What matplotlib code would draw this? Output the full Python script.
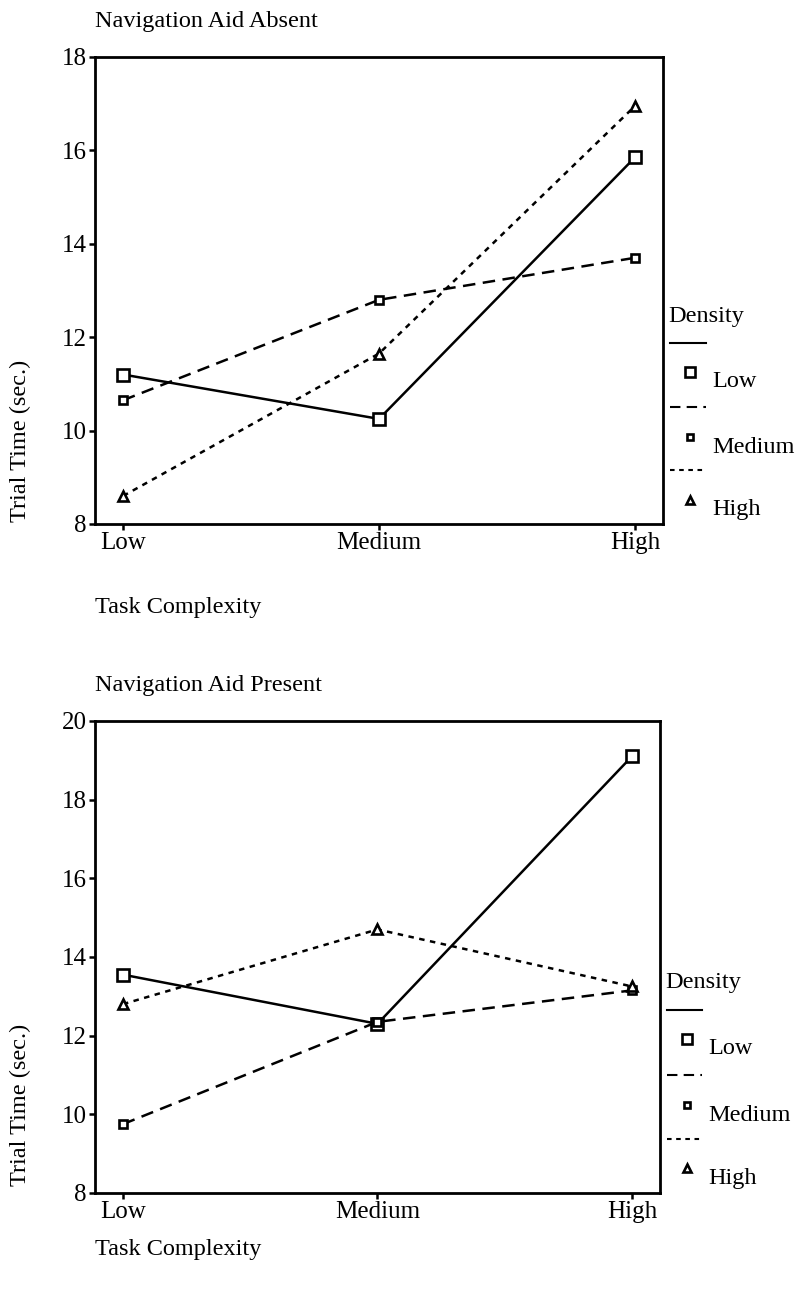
from matplotlib import pyplot as plt
from matplotlib.lines import Line2D

plt.rcParams['font.family'] = ['Liberation Serif', 'DejaVu Serif']

complexity = ['Low', 'Medium', 'High']
density = ['Low', 'Medium', 'High']

# trial times, navigation aid absent
absent_low = [11.2, 10.25, 15.85]
absent_medium = [10.65, 12.8, 13.7]
absent_high = [8.6, 11.65, 16.95]

# trial times, navigation aid present
present_low = [13.55, 12.3, 19.1]
present_medium = [9.75, 12.35, 13.15]
present_high = [12.8, 14.7, 13.25]

styles = [
    dict(ls='-', marker='s', ms=9, dashes=(None, None)),
    dict(ls='--', marker='s', ms=6, dashes=(5, 3)),
    dict(ls='--', marker='^', ms=7, dashes=(2.2, 2.2)),
]


def draw_panel(ax, series, yticks):
    x = range(len(complexity))
    for vals, st in zip(series, styles):
        kw = dict(color='black', lw=1.8, marker=st['marker'], ms=st['ms'],
                  mfc='white', mec='black', mew=1.9)
        if st['ls'] == '-':
            ax.plot(x, vals, '-', **kw)
        else:
            ax.plot(x, vals, '--', dashes=st['dashes'], **kw)
    ax.set_xlim(-0.11, 2.11)
    ax.set_ylim(yticks[0], yticks[-1])
    ax.set_yticks(yticks)
    ax.set_xticks(list(x))
    ax.set_xticklabels(complexity)
    ax.tick_params(labelsize=18, length=4, width=1.8, pad=2)
    for s in ax.spines.values():
        s.set_linewidth(2.0)

    # hand-built legend to the right of the box
    ax.text(1.009, 0.445, 'Density', transform=ax.transAxes, fontsize=17.5,
            va='center', ha='left')
    line_y = [0.388, 0.250, 0.115]
    mark_y = [0.326, 0.186, 0.052]
    text_y = [0.306, 0.164, 0.031]
    for i, st in enumerate(styles):
        if st['ls'] == '-':
            ln = Line2D([1.012, 1.075], [line_y[i]] * 2, color='black', lw=1.5,
                        transform=ax.transAxes, clip_on=False)
        else:
            ln = Line2D([1.012, 1.075], [line_y[i]] * 2, color='black', lw=1.5,
                        ls='--', dashes=st['dashes'],
                        transform=ax.transAxes, clip_on=False)
        ax.add_artist(ln)
        mk = Line2D([1.048], [mark_y[i]], marker=st['marker'],
                    ms=st['ms'] * 0.8, mfc='white', mec='black', mew=1.9,
                    transform=ax.transAxes, clip_on=False)
        ax.add_artist(mk)
        ax.text(1.086, text_y[i], density[i], transform=ax.transAxes,
                fontsize=17.5, va='center', ha='left')


fig = plt.figure(figsize=(7.98, 12.89), dpi=100)
ax1 = fig.add_axes([0.119, 0.5935, 0.712, 0.3623])
ax2 = fig.add_axes([0.119, 0.0745, 0.708, 0.3662])

draw_panel(ax1, [absent_low, absent_medium, absent_high], [8, 10, 12, 14, 16, 18])
draw_panel(ax2, [present_low, present_medium, present_high],
           [8, 10, 12, 14, 16, 18, 20])

fig.text(0.119, 1 - 22 / 1289, 'Navigation Aid Absent', fontsize=17.5, va='center')
fig.text(0.119, 1 - 608 / 1289, 'Task Complexity', fontsize=17.5, va='center')
fig.text(0.119, 1 - 685 / 1289, 'Navigation Aid Present', fontsize=17.5, va='center')
fig.text(0.119, 1 - 1250 / 1289, 'Task Complexity', fontsize=17.5, va='center')
fig.text(20 / 798, 1 - 441 / 1289, 'Trial Time (sec.)', fontsize=17.5,
         rotation=90, va='center', ha='center')
fig.text(20 / 798, 1 - 1105 / 1289, 'Trial Time (sec.)', fontsize=17.5,
         rotation=90, va='center', ha='center')

fig.savefig('out.png', dpi=100)
